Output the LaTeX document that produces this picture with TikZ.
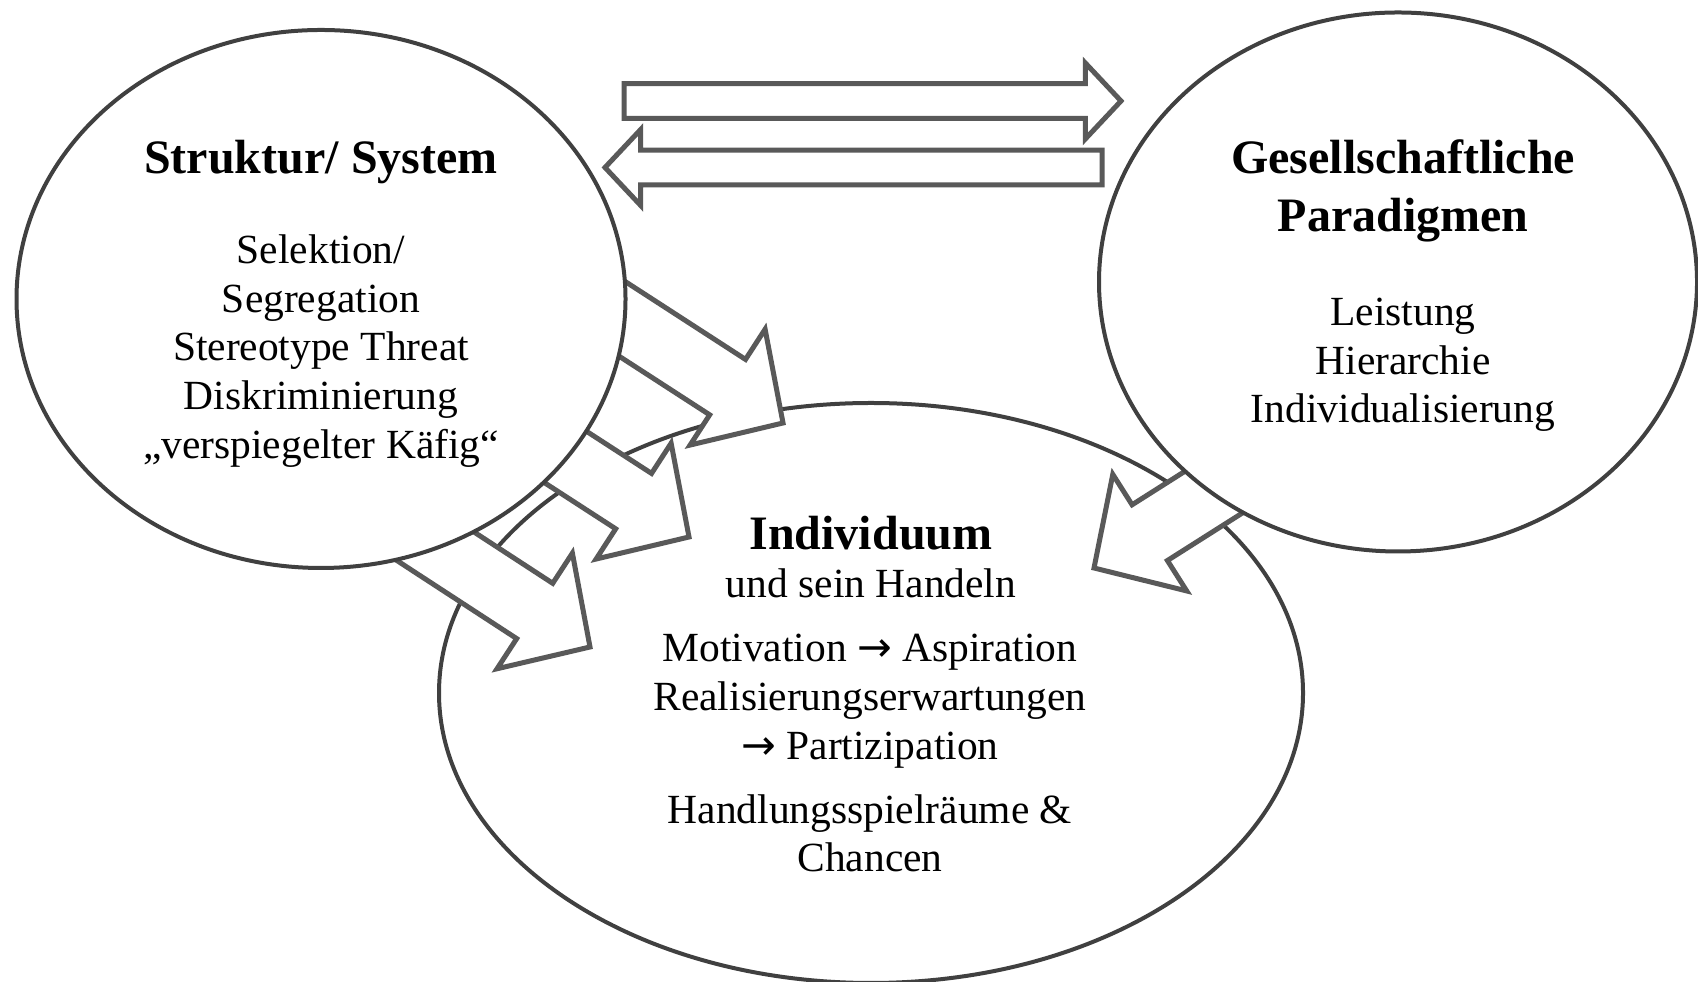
\documentclass[tikz,border=0pt]{standalone}
\usepackage{fontspec}
\setmainfont{Liberation Serif}
\newfontfamily\arrowfont{DejaVu Sans}
\usepackage{tikz}
\usetikzlibrary{calc,shapes.geometric}
\definecolor{rimgray}{HTML}{404040}
\definecolor{arrgray}{HTML}{595959}
\tikzset{
  ring/.style={ellipse,draw=rimgray,fill=white,line width=0.04cm,inner sep=0pt},
  blockarr/.style={draw=arrgray,fill=white,line width=0.05cm},
  titletxt/.style={font=\fontsize{13.66}{16.5}\selectfont\bfseries,align=center,anchor=base,inner sep=0pt},
  bodytxt/.style={font=\fontsize{11.8}{13.85}\selectfont,align=center,anchor=base,inner sep=0pt}
}
% block arrow: tail, tip, half shaft width, half head width, head length
\newcommand{\blockarrow}[5]{%
  \coordinate (hb) at ($(#2)!#5!(#1)$);
  \draw[blockarr] ($(#1)!#3!90:(#2)$) -- ($(hb)!#3!90:(#2)$)
    -- ($(hb)!#4!90:(#2)$) -- (#2) -- ($(hb)!#4!-90:(#2)$)
    -- ($(hb)!#3!-90:(#2)$) -- ($(#1)!#3!-90:(#2)$) -- cycle;}
\newcommand{\toarrow}{{\arrowfont →}}

\begin{document}
\begin{tikzpicture}
  \useasboundingbox (0,0) rectangle (16.98,9.82);
  % individual first, the two others lie over it
  \node[ring,minimum width=8.64cm,minimum height=5.8cm] (indiv) at (8.71,2.89) {};
  % influences on the individual
  \coordinate (s1) at (5.59,7.04); \coordinate (t1) at (7.83,5.59);
  \coordinate (s2) at (4.62,5.92); \coordinate (t2) at (6.89,4.45);
  \coordinate (s3) at (3.66,4.81); \coordinate (t3) at (5.90,3.35);
  \coordinate (s4) at (13.18,5.56); \coordinate (t4) at (10.94,4.14);
  \blockarrow{s1}{t1}{0.33cm}{0.69cm}{0.66cm}
  \blockarrow{s2}{t2}{0.33cm}{0.69cm}{0.66cm}
  \blockarrow{s3}{t3}{0.33cm}{0.69cm}{0.66cm}
  \blockarrow{s4}{t4}{0.33cm}{0.69cm}{0.66cm}
  \node[ring,minimum width=6.09cm,minimum height=5.38cm] (struktur) at (3.21,6.83) {};
  \node[ring,minimum width=5.98cm,minimum height=5.39cm] (gesell) at (13.98,7.0) {};
  % exchange struktur <-> paradigmen
  \coordinate (u1) at (6.24,8.81); \coordinate (v1) at (11.21,8.81);
  \coordinate (u2) at (11.02,8.145); \coordinate (v2) at (6.05,8.145);
  \blockarrow{u1}{v1}{0.173cm}{0.38cm}{0.357cm}
  \blockarrow{u2}{v2}{0.173cm}{0.38cm}{0.357cm}
  % texts (base = last line)
  \node[titletxt] (struktur-t) at (3.21,8.08) {Struktur/ System};
  \node[bodytxt] (struktur-b) at (3.21,5.237) {Selektion/\\Segregation\\Stereotype Threat\\Diskriminierung\\„verspiegelter Käfig“};
  \node[titletxt] (gesell-t) at (14.03,7.50) {Gesellschaftliche\\Paradigmen};
  \node[bodytxt] (gesell-b) at (14.03,5.593) {Leistung\\Hierarchie\\Individualisierung};
  \node[titletxt] (indiv-t) at (8.71,4.32) {Individuum};
  \node[bodytxt] (indiv-s) at (8.71,3.847) {und sein Handeln};
  \node[bodytxt] (indiv-b) at (8.70,2.227) {Motivation \toarrow{} Aspiration\\Realisierungserwartungen\\\toarrow{} Partizipation};
  \node[bodytxt] (indiv-c) at (8.70,1.103) {Handlungsspielräume \&\\Chancen};
\end{tikzpicture}
\end{document}
